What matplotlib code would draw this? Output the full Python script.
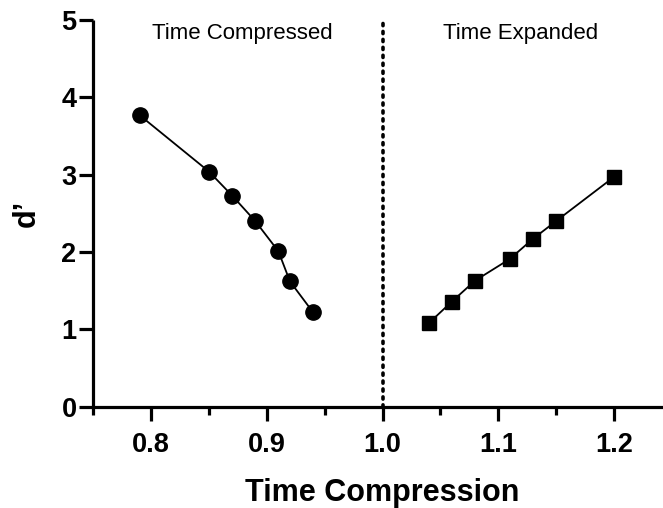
import matplotlib; matplotlib.use("Agg")
import matplotlib.pyplot as plt
import matplotlib.ticker as mticker

# data
comp_x = [0.79, 0.85, 0.87, 0.89, 0.91, 0.92, 0.94]
comp_d = [3.77, 3.04, 2.73, 2.40, 2.01, 1.62, 1.22]
exp_x = [1.04, 1.06, 1.08, 1.11, 1.13, 1.15, 1.20]
exp_d = [1.08, 1.36, 1.63, 1.91, 2.17, 2.40, 2.97]
xticks = [0.8, 0.9, 1.0, 1.1, 1.2]
yticks = [0, 1, 2, 3, 4, 5]

plt.rcParams.update({"font.family": ["Liberation Sans", "DejaVu Sans"]})
fig = plt.figure(figsize=(6.63, 5.08), dpi=100)
ax = fig.add_axes([0.1407, 0.1994, 0.8725, 0.7612])

ax.plot(comp_x, comp_d, color="black", lw=1.3, marker="o", ms=11, zorder=3)
ax.plot(exp_x, exp_d, color="black", lw=1.3, marker="s", ms=10.5, zorder=3)
ax.axvline(1.0, color="black", lw=2.6, ls=(0, (0.6, 1.6)), dash_capstyle="round", zorder=2)

ax.text(0.8785, 4.76, "Time Compressed", ha="center", va="baseline", fontsize=16)
ax.text(1.119, 4.76, "Time Expanded", ha="center", va="baseline", fontsize=16)

ax.set_xlim(0.75, 1.25)
ax.set_ylim(0, 5)
ax.set_xticks(xticks)
ax.xaxis.set_major_formatter(mticker.FormatStrFormatter("%.1f"))
ax.xaxis.set_minor_locator(mticker.FixedLocator([0.75, 0.85, 0.95, 1.05, 1.15]))
ax.set_yticks(yticks)

for sp in ["top", "right"]:
    ax.spines[sp].set_visible(False)
for sp in ["left", "bottom"]:
    ax.spines[sp].set_linewidth(2.3)
ax.spines["left"].set_capstyle("butt")

ax.tick_params(axis="both", which="major", length=10, width=2.3, labelsize=19.5)
ax.tick_params(axis="x", which="minor", length=6, width=2.3)
ax.tick_params(axis="x", which="major", pad=8.5)
ax.tick_params(axis="y", which="major", pad=2)
for lab in ax.get_xticklabels() + ax.get_yticklabels():
    lab.set_fontweight("bold")

ax.set_xlabel("Time Compression", fontsize=22, fontweight="bold", labelpad=14)
ax.set_ylabel("d\u2019", fontsize=22, fontweight="bold", labelpad=14)

fig.savefig("out.png", dpi=100, facecolor="white")
